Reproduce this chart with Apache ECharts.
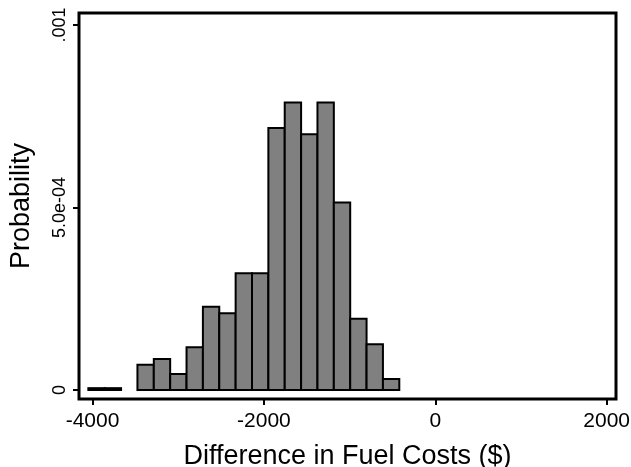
<!DOCTYPE html>
<html>
<head>
<meta charset="utf-8">
<script src="https://cdn.jsdelivr.net/npm/echarts@6/dist/echarts.min.js"></script>
<style>
  html, body { margin: 0; padding: 0; background: #fff; }
  #chart { width: 631px; height: 467px; }
</style>
</head>
<body>
<div id="chart"></div>
<script>
// histogram bins: left edge of first bin, common width, probability density per bin
const binStart = -4049;
const binWidth = 191;
const binHeights = [
  0.05e-4, 0.05e-4, 0,
  0.69e-4, 0.85e-4, 0.44e-4, 1.17e-4, 2.28e-4, 2.10e-4, 3.20e-4, 3.20e-4,
  7.18e-4, 7.88e-4, 7.01e-4, 7.88e-4, 5.14e-4, 1.95e-4, 1.25e-4, 0.30e-4
];

const xTicks = [-4000, -2000, 0, 2000];
const yTicks = [0, 0.0005, 0.001];
const yTickLabels = ['0', '5.0e-04', '.001'];

const FONT = '"Liberation Sans", Arial, Helvetica, sans-serif';

const bins = binHeights.map((h, i) => [binStart + i * binWidth, binStart + (i + 1) * binWidth, h]);

const chart = echarts.init(document.getElementById('chart'), null, { renderer: 'canvas' });

chart.setOption({
  backgroundColor: '#fff',
  animation: false,
  grid: {
    left: 79, right: 15, top: 13, bottom: 68,
    containLabel: false,
    outerBoundsMode: 'none',
    show: true,
    borderColor: '#000',
    borderWidth: 3,
    backgroundColor: '#fff'
  },
  xAxis: {
    type: 'value',
    min: -4158,
    max: 2109,
    name: 'Difference in Fuel Costs ($)',
    nameLocation: 'middle',
    nameGap: 44,
    nameTextStyle: { color: '#000', fontFamily: FONT, fontSize: 27 },
    axisLine: { show: false, onZero: false },
    splitLine: { show: false },
    axisTick: { show: true, length: 6, lineStyle: { color: '#000', width: 2 }, customValues: xTicks },
    axisLabel: {
      color: '#000', fontFamily: FONT, fontSize: 21, margin: 12, customValues: xTicks,
      formatter: (v) => String(v)
    }
  },
  yAxis: {
    type: 'value',
    min: -0.0000247,
    max: 0.0010329,
    name: 'Probability',
    nameLocation: 'middle',
    nameRotate: 90,
    nameGap: 44,
    nameTextStyle: { color: '#000', fontFamily: FONT, fontSize: 27 },
    axisLine: { show: false, onZero: false },
    splitLine: { show: false },
    axisTick: { show: true, length: 6, lineStyle: { color: '#000', width: 2 }, customValues: yTicks },
    axisLabel: {
      color: '#000', fontFamily: FONT, fontSize: 18, margin: 10, rotate: 90,
      customValues: yTicks,
      formatter: (v) => {
        const i = yTicks.findIndex((t) => Math.abs(t - v) < 1e-9);
        return i >= 0 ? yTickLabels[i] : '';
      }
    }
  },
  series: [{
    type: 'custom',
    data: bins,
    encode: { x: [0, 1], y: 2 },
    clip: true,
    renderItem: (params, api) => {
      const x0 = api.value(0);
      const x1 = api.value(1);
      const h = api.value(2);
      if (!(h > 0)) return null;
      const topLeft = api.coord([x0, h]);
      const botRight = api.coord([x1, 0]);
      return {
        type: 'rect',
        shape: {
          x: topLeft[0],
          y: topLeft[1],
          width: botRight[0] - topLeft[0],
          height: botRight[1] - topLeft[1]
        },
        style: { fill: '#808080', stroke: '#000', lineWidth: 2 }
      };
    }
  }]
});
</script>
</body>
</html>
